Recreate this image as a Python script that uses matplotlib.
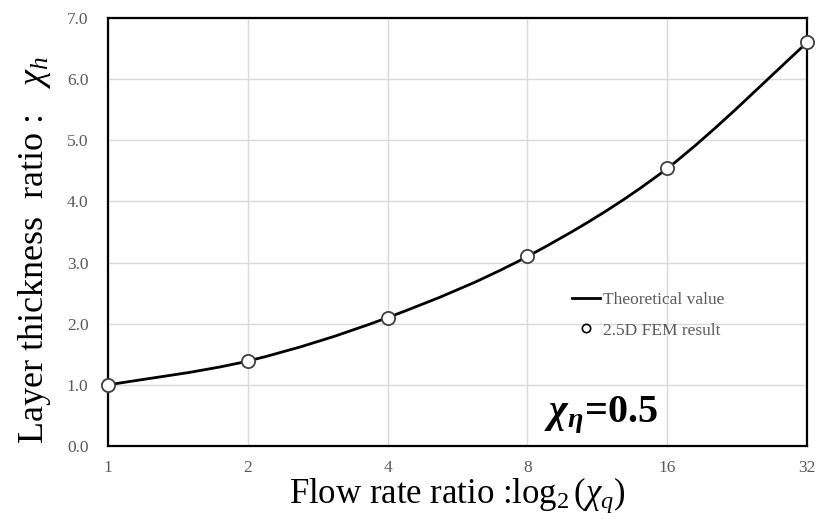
import numpy as np
import matplotlib
matplotlib.use("Agg")
import matplotlib.pyplot as plt
from matplotlib.path import Path
from matplotlib.patches import PathPatch
from matplotlib.lines import Line2D

# data
flow_ratio = [1, 2, 4, 8, 16, 32]
theory_h = [1.00, 1.39, 2.10, 3.10, 4.54, 6.60]
fem_h = [1.00, 1.39, 2.10, 3.10, 4.54, 6.60]
y_ticks = [0, 1, 2, 3, 4, 5, 6, 7]

plt.rcParams['font.family'] = ['Liberation Serif', 'DejaVu Serif']
plt.rcParams['mathtext.fontset'] = 'custom'
plt.rcParams['mathtext.rm'] = 'Liberation Serif'
plt.rcParams['mathtext.it'] = 'Liberation Serif:italic'
plt.rcParams['mathtext.bf'] = 'Liberation Serif:italic:bold'

tick_gray = '#595959'


def smooth_path(xs, ys):
    """Catmull-Rom style bezier through the points (done in log2 x space)"""
    lx = np.log2(np.asarray(xs, float))
    y = np.asarray(ys, float)
    verts = [(xs[0], y[0])]
    codes = [Path.MOVETO]
    n = len(lx)
    for i in range(n - 1):
        x0, y0 = (lx[i - 1], y[i - 1]) if i > 0 else (lx[i], y[i])
        x3, y3 = (lx[i + 2], y[i + 2]) if i + 2 < n else (lx[i + 1], y[i + 1])
        c1 = (lx[i] + (lx[i + 1] - x0) / 6, y[i] + (y[i + 1] - y0) / 6)
        c2 = (lx[i + 1] - (x3 - lx[i]) / 6, y[i + 1] - (y3 - y[i]) / 6)
        verts += [(2 ** c1[0], c1[1]), (2 ** c2[0], c2[1]), (xs[i + 1], y[i + 1])]
        codes += [Path.CURVE4] * 3
    return Path(verts, codes)


fig = plt.figure(figsize=(8.21, 5.19), dpi=100)
ax = fig.add_axes([0.1315, 0.1407, 0.8515, 0.8246])

ax.set_xscale('log', base=2)
ax.set_xlim(flow_ratio[0], flow_ratio[-1])
ax.set_ylim(0, 7)
ax.set_xticks(flow_ratio)
ax.set_xticklabels([str(v) for v in flow_ratio])
ax.xaxis.set_minor_locator(matplotlib.ticker.NullLocator())
ax.set_yticks(y_ticks)
ax.set_yticklabels([f"{v:.1f}" for v in y_ticks])
ax.tick_params(length=0, labelsize=12.5, labelcolor=tick_gray)
ax.tick_params(axis='x', pad=10)
ax.tick_params(axis='y', pad=14)
ax.grid(True, color='#d9d9d9', linewidth=1.0)
ax.set_axisbelow(True)
for s in ax.spines.values():
    s.set_linewidth(1.6)
    s.set_color('black')

patch = PathPatch(smooth_path(flow_ratio, theory_h), facecolor='none',
                  edgecolor='black', linewidth=2.0, zorder=3)
ax.add_patch(patch)
ax.plot(flow_ratio, fem_h, linestyle='none', marker='o', markersize=9.5,
        markerfacecolor='white', markeredgecolor='#404040',
        markeredgewidth=1.3, zorder=4, clip_on=False)

handles = [Line2D([], [], color='black', linewidth=2.0),
           Line2D([], [], linestyle='none', marker='o', markersize=6,
                  markerfacecolor='white', markeredgecolor='black',
                  markeredgewidth=1.2)]
leg = ax.legend(handles, ['Theoretical value', '2.5D FEM result'],
                loc='upper left', bbox_to_anchor=(0.664, 0.361), frameon=False,
                fontsize=12.5, handlelength=1.6, handletextpad=0.15,
                labelspacing=0.85, borderpad=0, borderaxespad=0)
for t in leg.get_texts():
    t.set_color(tick_gray)

ax.text(0.624, 0.056, r'$\mathbf{\chi_\eta}$=0.5', transform=ax.transAxes,
        fontsize=29, fontweight='bold', ha='left', va='baseline')

ax.set_xlabel(r'Flow rate ratio :$\mathrm{log}_2\,(\chi_q)$', fontsize=25,
              labelpad=0)
ax.set_ylabel(r'Layer thickness  ratio :   $\chi_h$', fontsize=26)
ax.yaxis.set_label_coords(-0.079, 0.458)

fig.savefig('out.png', dpi=100)
